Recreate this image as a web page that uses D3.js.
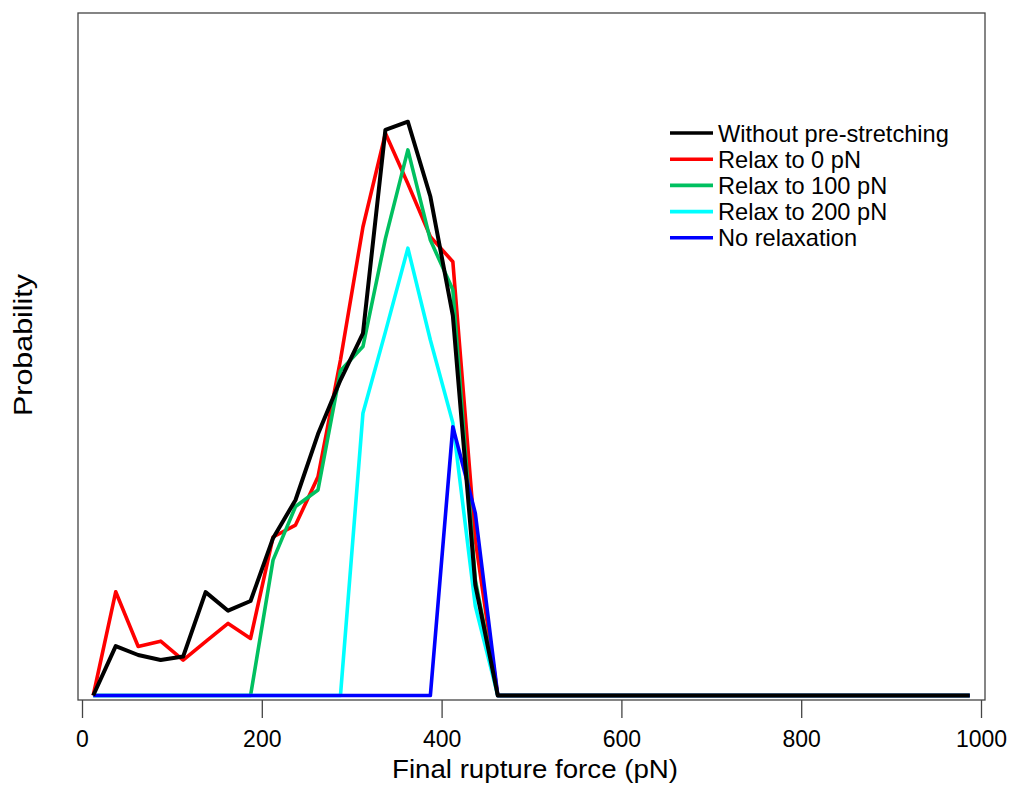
<!DOCTYPE html>
<html>
<head>
<meta charset="utf-8">
<script src="https://cdnjs.cloudflare.com/ajax/libs/d3/7.8.5/d3.min.js"></script>
<style>
  body { margin: 0; background: #fff; }
  text { font-family: "Liberation Sans", Arial, sans-serif; fill: #000; }
</style>
</head>
<body>
<div id="chart"></div>
<script>
// bin centres (pN)
var forces = [12.5, 37.5, 62.5, 87.5, 112.5, 137.5, 162.5, 187.5, 212.5, 237.5,
  262.5, 287.5, 312.5, 337.5, 362.5, 387.5, 412.5, 437.5, 462.5, 487.5,
  512.5, 537.5, 562.5, 587.5, 612.5, 637.5, 662.5, 687.5, 712.5, 737.5,
  762.5, 787.5, 812.5, 837.5, 862.5, 887.5, 912.5, 937.5, 962.5, 987.5];

var withoutPre = [0, 0.0128, 0.0105, 0.0092, 0.0101, 0.0268, 0.0220, 0.0245, 0.0408, 0.0507,
  0.0678, 0.0818, 0.0939, 0.1467, 0.1488, 0.1294, 0.0985, 0.0287, 0, 0,
  0, 0, 0, 0, 0, 0, 0, 0, 0, 0, 0, 0, 0, 0, 0, 0, 0, 0, 0, 0];
var relax0 = [0, 0.0269, 0.0127, 0.0141, 0.0092, 0.0140, 0.0187, 0.0148, 0.0411, 0.0442,
  0.0567, 0.0870, 0.1215, 0.1458, 0.1327, 0.1190, 0.1125, 0.0403, 0, 0,
  0, 0, 0, 0, 0, 0, 0, 0, 0, 0, 0, 0, 0, 0, 0, 0, 0, 0, 0, 0];
var relax100 = [0, 0, 0, 0, 0, 0, 0, 0, 0.0351, 0.0490,
  0.0533, 0.0842, 0.0905, 0.1185, 0.1415, 0.1181, 0.1052, 0.0300, 0, 0,
  0, 0, 0, 0, 0, 0, 0, 0, 0, 0, 0, 0, 0, 0, 0, 0, 0, 0, 0, 0];
var relax200 = [0, 0, 0, 0, 0, 0, 0, 0, 0, 0,
  0, 0, 0.0732, 0.0943, 0.1160, 0.0922, 0.0707, 0.0232, 0, 0,
  0, 0, 0, 0, 0, 0, 0, 0, 0, 0, 0, 0, 0, 0, 0, 0, 0, 0, 0, 0];
var noRelax = [0, 0, 0, 0, 0, 0, 0, 0, 0, 0,
  0, 0, 0, 0, 0, 0, 0.0697, 0.0473, 0, 0,
  0, 0, 0, 0, 0, 0, 0, 0, 0, 0, 0, 0, 0, 0, 0, 0, 0, 0, 0, 0];

var xTicks = [0, 200, 400, 600, 800, 1000];
var seriesNames = ["Without pre-stretching", "Relax to 0 pN", "Relax to 100 pN", "Relax to 200 pN", "No relaxation"];

var colors = {
  "Without pre-stretching": "#000000",
  "Relax to 0 pN": "#ff0000",
  "Relax to 100 pN": "#00c060",
  "Relax to 200 pN": "#00ffff",
  "No relaxation": "#0000ff"
};
var values = {
  "Without pre-stretching": withoutPre,
  "Relax to 0 pN": relax0,
  "Relax to 100 pN": relax100,
  "Relax to 200 pN": relax200,
  "No relaxation": noRelax
};

var width = 1010, height = 785;
var box = {left: 78, right: 985, top: 13, bottom: 700};

var svg = d3.select("#chart").append("svg")
  .attr("width", width)
  .attr("height", height);

var x = d3.scaleLinear().domain([0, 1000]).range([82, 981]);
var y = d3.scaleLinear().domain([0, 0.177]).range([695.5, 13]);

// frame
svg.append("rect")
  .attr("x", box.left).attr("y", box.top)
  .attr("width", box.right - box.left).attr("height", box.bottom - box.top)
  .attr("fill", "none").attr("stroke", "#444").attr("stroke-width", 1.3);

// x axis (no domain line, box serves as it)
var xAxis = svg.append("g")
  .attr("transform", "translate(0," + box.bottom + ")")
  .call(d3.axisBottom(x).tickValues(xTicks).tickSize(18).tickPadding(13).tickFormat(d3.format("d")));
xAxis.select(".domain").remove();
xAxis.selectAll("line").attr("stroke", "#444").attr("stroke-width", 1.3);
xAxis.selectAll("text").style("font-size", "23px").style("font-family", "Liberation Sans, Arial, sans-serif");

// lines, drawn so black sits on top
var line = d3.line()
  .x(function(d, i) { return x(forces[i]); })
  .y(function(d) { return y(d); });

var drawOrder = ["Relax to 0 pN", "Relax to 100 pN", "Relax to 200 pN", "No relaxation", "Without pre-stretching"];
drawOrder.forEach(function(name) {
  svg.append("path")
    .datum(values[name])
    .attr("d", line)
    .attr("fill", "none")
    .attr("stroke", colors[name])
    .attr("stroke-width", name === "Without pre-stretching" ? 4 : 3.6)
    .attr("stroke-linejoin", "round");
});

// axis titles
svg.append("text")
  .attr("x", 535).attr("y", 778)
  .attr("text-anchor", "middle")
  .attr("textLength", 286).attr("lengthAdjust", "spacingAndGlyphs")
  .style("font-size", "26px")
  .text("Final rupture force (pN)");

svg.append("text")
  .attr("transform", "translate(32,345) rotate(-90)")
  .attr("text-anchor", "middle")
  .attr("textLength", 142).attr("lengthAdjust", "spacingAndGlyphs")
  .style("font-size", "26px")
  .text("Probability");

// legend
var legend = svg.append("g").attr("transform", "translate(670,133)");
seriesNames.forEach(function(name, i) {
  var g = legend.append("g").attr("transform", "translate(0," + (i * 26.2) + ")");
  g.append("line")
    .attr("x1", 0).attr("x2", 43).attr("y1", 0).attr("y2", 0)
    .attr("stroke", colors[name]).attr("stroke-width", 3.6);
  g.append("text")
    .attr("x", 48).attr("y", 8.5)
    .style("font-size", "23.6px")
    .text(name);
});
</script>
</body>
</html>
